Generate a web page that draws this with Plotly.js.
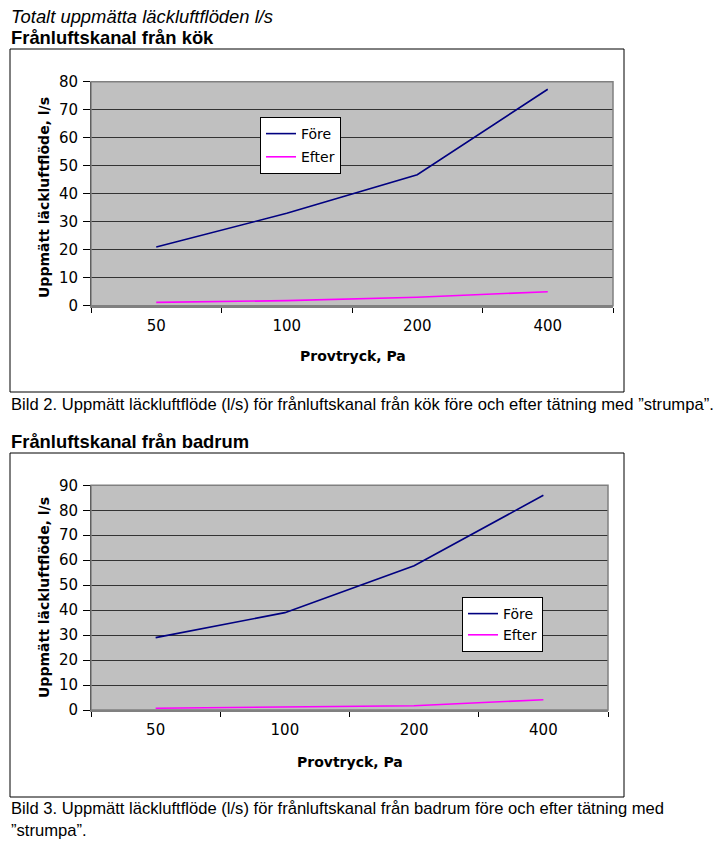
<!DOCTYPE html>
<html>
<head>
<meta charset="utf-8">
<script src="https://cdn.plot.ly/plotly-3.0.1.min.js"></script>
<style>
html,body{margin:0;padding:0;background:#fff;}
#chart{width:724px;height:847px;}
</style>
</head>
<body>
<div id="chart"></div>
<script>
// Data
const pressure = ['50', '100', '200', '400'];
const kokFore = [21, 33, 46.8, 77.3];
const kokEfter = [1.2, 1.8, 3.0, 5.0];
const badrumFore = [29, 39, 57.8, 86];
const badrumEfter = [0.7, 1.3, 1.7, 4.1];
const seriesNames = ['Före', 'Efter'];
const yTitle = 'Uppmätt läckluftflöde, l/s';
const xTitle = 'Provtryck, Pa';

const W = 724, H = 847;
const px = v => v / W;
const py = v => 1 - v / H;

const DOC = 'Liberation Sans, Arial, sans-serif';
const CH = 'DejaVu Sans, Verdana, sans-serif';
const navy = '#000080', magenta = '#FF00FF';

function tr(y, i, xa, ya, lg) {
  return {x: pressure, y: y, name: seriesNames[i], type: 'scatter', mode: 'lines',
    line: {color: i === 0 ? navy : magenta, width: 1.6}, xaxis: xa, yaxis: ya,
    legend: lg, legendgroup: lg + i};
}
const traces = [
  tr(kokFore, 0, 'x', 'y', 'legend'),
  tr(kokEfter, 1, 'x', 'y', 'legend'),
  tr(badrumFore, 0, 'x2', 'y2', 'legend2'),
  tr(badrumEfter, 1, 'x2', 'y2', 'legend2')
];

function xax(domain, anchor) {
  return {
    domain: domain, anchor: anchor, type: 'category', range: [-0.5, 3.5],
    tickson: 'boundaries', ticks: 'outside', ticklen: 5, tickcolor: '#000',
    ticklabelstandoff: 5,
    showgrid: false, showline: true, linecolor: '#808080', linewidth: 2,
    tickfont: {family: CH, size: 15, color: '#000'}, fixedrange: true, zeroline: false
  };
}
function yax(domain, anchor, max) {
  return {
    domain: domain, anchor: anchor, range: [0, max], dtick: 10, tick0: 0,
    ticks: 'outside', ticklen: 7, tickcolor: '#000', ticklabelstandoff: 2,
    showgrid: true, gridcolor: '#333', gridwidth: 1,
    showline: true, linecolor: '#000', linewidth: 1, zeroline: false,
    tickfont: {family: CH, size: 15, color: '#000'}, fixedrange: true
  };
}
function leg(x, y, gap) {
  return {x: px(x), y: py(y), xanchor: 'left', yanchor: 'top', bgcolor: '#fff', bordercolor: '#000', borderwidth: 1,
    font: {family: CH, size: 14, color: '#000'}, tracegroupgap: gap, itemwidth: 30, traceorder: 'grouped'};
}

const layout = {
  width: W, height: H,
  margin: {l: 0, r: 0, t: 0, b: 0},
  paper_bgcolor: '#fff', plot_bgcolor: '#C0C0C0',
  showlegend: true,
  xaxis: xax([px(91), px(613)], 'y'),
  yaxis: yax([py(305.7), py(81.7)], 'x', 80),
  xaxis2: xax([px(91), px(608)], 'y2'),
  yaxis2: yax([py(710), py(485.3)], 'x2', 90),
  legend: leg(260, 117, 2),
  legend2: leg(462, 597, 0),
  shapes: [
    {type: 'rect', xref: 'paper', yref: 'paper', x0: px(10), x1: px(624), y0: py(392), y1: py(49), line: {color: '#000', width: 1}, fillcolor: 'rgba(0,0,0,0)', layer: 'below'},
    {type: 'rect', xref: 'paper', yref: 'paper', x0: px(10), x1: px(624), y0: py(797), y1: py(453), line: {color: '#000', width: 1}, fillcolor: 'rgba(0,0,0,0)', layer: 'below'},
    {type: 'rect', xref: 'x domain', yref: 'y domain', x0: 0, x1: 1, y0: 0, y1: 1, line: {color: '#808080', width: 1.5}, fillcolor: 'rgba(0,0,0,0)', layer: 'above'},
    {type: 'rect', xref: 'x2 domain', yref: 'y2 domain', x0: 0, x1: 1, y0: 0, y1: 1, line: {color: '#808080', width: 1.5}, fillcolor: 'rgba(0,0,0,0)', layer: 'above'}
  ],
  annotations: [
    {text: '<i>Totalt uppmätta läckluftflöden l/s</i>', xref: 'paper', yref: 'paper', x: px(9), y: py(17), xanchor: 'left', yanchor: 'middle', showarrow: false, font: {family: DOC, size: 18.4, color: '#000'}},
    {text: '<b>Frånluftskanal från kök</b>', xref: 'paper', yref: 'paper', x: px(9), y: py(37), xanchor: 'left', yanchor: 'middle', showarrow: false, font: {family: DOC, size: 18.4, color: '#000'}},
    {text: '<b>' + yTitle + '</b>', xref: 'paper', yref: 'paper', x: px(44), y: py(198), xanchor: 'center', yanchor: 'middle', textangle: -90, showarrow: false, font: {family: CH, size: 14, color: '#000'}},
    {text: '<b>' + xTitle + '</b>', xref: 'paper', yref: 'paper', x: px(353), y: py(356), xanchor: 'center', yanchor: 'middle', showarrow: false, font: {family: CH, size: 14, color: '#000'}},
    {text: 'Bild 2. Uppmätt läckluftflöde (l/s) för frånluftskanal från kök före och efter tätning med ”strumpa”.', xref: 'paper', yref: 'paper', x: px(9), y: py(404), xanchor: 'left', yanchor: 'middle', showarrow: false, font: {family: DOC, size: 16.6, color: '#000'}},
    {text: '<b>Frånluftskanal från badrum</b>', xref: 'paper', yref: 'paper', x: px(9), y: py(441), xanchor: 'left', yanchor: 'middle', showarrow: false, font: {family: DOC, size: 18.4, color: '#000'}},
    {text: '<b>' + yTitle + '</b>', xref: 'paper', yref: 'paper', x: px(44), y: py(598), xanchor: 'center', yanchor: 'middle', textangle: -90, showarrow: false, font: {family: CH, size: 14, color: '#000'}},
    {text: '<b>' + xTitle + '</b>', xref: 'paper', yref: 'paper', x: px(350), y: py(762), xanchor: 'center', yanchor: 'middle', showarrow: false, font: {family: CH, size: 14, color: '#000'}},
    {text: 'Bild 3. Uppmätt läckluftflöde (l/s) för frånluftskanal från badrum före och efter tätning med<br>”strumpa”.', xref: 'paper', yref: 'paper', x: px(9), y: py(797), xanchor: 'left', yanchor: 'top', align: 'left', showarrow: false, font: {family: DOC, size: 16.6, color: '#000'}}
  ]
};

Plotly.newPlot('chart', traces, layout, {staticPlot: true, displayModeBar: false});
</script>
</body>
</html>
